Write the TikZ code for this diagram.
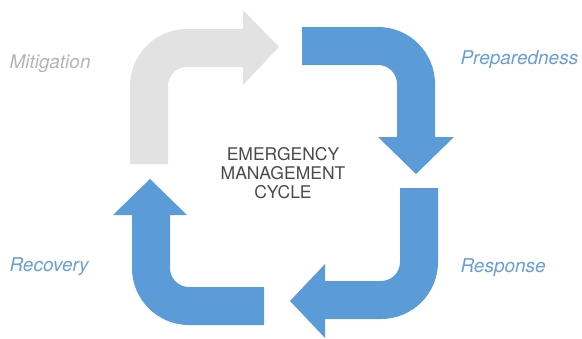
\documentclass[tikz,border=0pt]{standalone}
\usepackage{fontspec}
\setmainfont{TeX Gyre Heros}
\definecolor{cycleblue}{HTML}{5B9BD8}
\definecolor{cyclegray}{HTML}{E2E2E2}
\definecolor{labelblue}{HTML}{6A9ED6}
\definecolor{labelgray}{HTML}{B4B4B4}
\definecolor{titlegray}{HTML}{4A4A4A}
\begin{document}
\begin{tikzpicture}[x=1pt,y=-1pt,
  shaft/.style={line width=38pt,rounded corners=38pt},
  phase/.style={font=\fontsize{19}{22}\selectfont\itshape,anchor=west}]
\useasboundingbox (0,0) rectangle (582,338);
     %arrows:
\begin{scope}
% Mitigation
\coordinate (m0) at (149,164);
\coordinate (m1) at (243,48);
\draw [shaft,cyclegray] (m0) |- (m1);
\fill [cyclegray] (243,10) -- (279,47) -- (243,85) -- cycle;
% Preparedness
\coordinate (p0) at (302,46);
\coordinate (p1) at (416,138);
\draw [shaft,cycleblue] (p0) -| (p1);
\fill [cycleblue] (378,137) -- (416,174) -- (454,137) -- cycle;
% Response
\coordinate (r0) at (419,188);
\coordinate (r1) at (324,300);
\draw [shaft,cycleblue] (r0) |- (r1);
\fill [cycleblue] (325,264) -- (290,301) -- (325,338) -- cycle;
% Recovery
\coordinate (c0) at (264,306);
\coordinate (c1) at (151,214);
\draw [shaft,cycleblue] (c0) -| (c1);
\fill [cycleblue] (113,215) -- (150,179) -- (187,215) -- cycle;
\end{scope}

     %labels:
\node (mitigation) at (6,64) [phase,text=labelgray] {Mitigation};
\node (preparedness) at (457,60) [phase,text=labelblue] {Preparedness};
\node (response) at (457,268) [phase,text=labelblue] {Response};
\node (recovery) at (6,267) [phase,text=labelblue] {Recovery};
\node (cycle) at (283,173) [align=center,text=titlegray,font=\fontsize{17.5}{19}\selectfont] {EMERGENCY\\MANAGEMENT\\CYCLE};
\end{tikzpicture}
\end{document}
